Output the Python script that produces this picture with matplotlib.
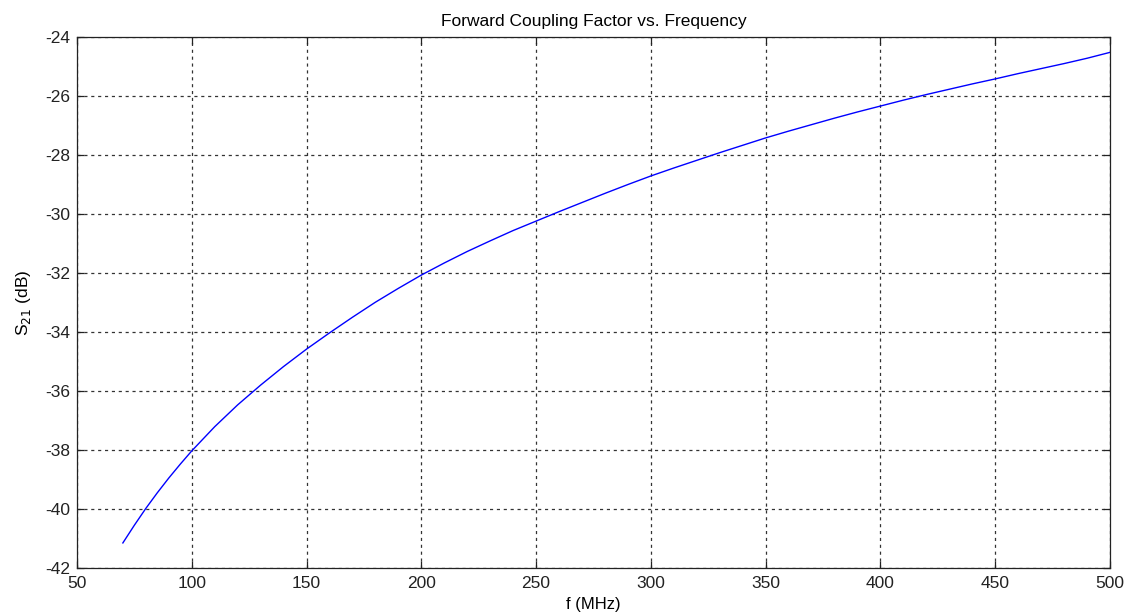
import numpy as np
import matplotlib
matplotlib.use('Agg')
import matplotlib.pyplot as plt

# Coupler forward coupling, S21 in dB against frequency in MHz
freq_mhz = [70, 75, 80, 85, 90, 95, 100, 110, 120, 130, 140, 150, 160,
            170, 180, 190, 200, 210, 220, 230, 240, 250, 260, 270, 280,
            290, 300, 310, 320, 330, 340, 350, 360, 370, 380, 390, 400,
            410, 420, 430, 440, 450, 460, 470, 480, 490, 500]
s21_db = [-41.15, -40.55, -39.98, -39.45, -38.95, -38.48, -38.03, -37.21,
          -36.47, -35.8, -35.17, -34.58, -34.03, -33.5, -32.99, -32.52,
          -32.07, -31.66, -31.27, -30.91, -30.56, -30.24, -29.92, -29.61,
          -29.3, -29.0, -28.71, -28.44, -28.18, -27.92, -27.67, -27.42,
          -27.19, -26.97, -26.75, -26.54, -26.34, -26.14, -25.95, -25.77,
          -25.59, -25.42, -25.24, -25.07, -24.9, -24.72, -24.52]

xticks = [50, 100, 150, 200, 250, 300, 350, 400, 450, 500]
yticks = [-42, -40, -38, -36, -34, -32, -30, -28, -26, -24]

plt.rcParams['font.family'] = ['Liberation Sans', 'DejaVu Sans']
plt.rcParams['axes.unicode_minus'] = False

fig = plt.figure(figsize=(11.3, 6.15), dpi=100)
ax = fig.add_axes([0.0681, 0.0764, 0.9142, 0.8634])

ax.plot(freq_mhz, s21_db, color='#0000ff', linewidth=1.0)

ax.set_xlim(50, 500)
ax.set_ylim(-42, -24)
ax.set_xticks(xticks)
ax.set_yticks(yticks)
ax.grid(True, color='#333333', linestyle=(0, (2.5, 3)), linewidth=0.9)

ax.tick_params(direction='in', length=5, width=0.9, top=True, right=True,
               labelsize=12.5, colors='#222222', pad=5)
ax.tick_params(axis='x', pad=6)
for sp in ax.spines.values():
    sp.set_linewidth(0.9)
    sp.set_color('#222222')

ax.set_title('Forward Coupling Factor vs. Frequency', fontsize=12.5, pad=8)
ax.set_xlabel('f (MHz)', fontsize=12, labelpad=4)
ax.set_ylabel('S$_{21}$ (dB)', fontsize=12.5, labelpad=9)

fig.savefig('out.png', dpi=100, facecolor='white')
